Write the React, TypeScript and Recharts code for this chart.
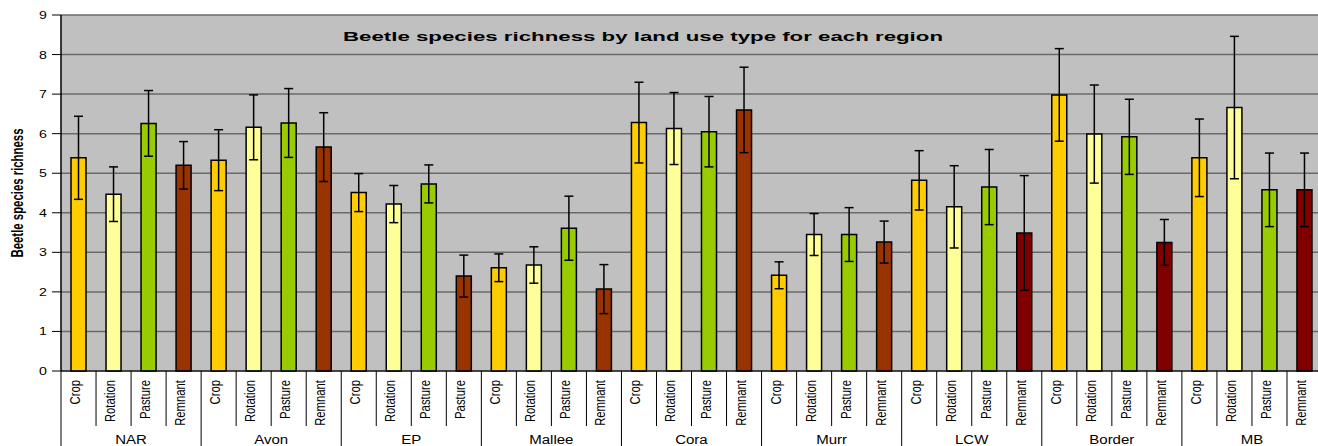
import { BarChart, Bar, Cell, ErrorBar, XAxis, YAxis, CartesianGrid } from "recharts";

const regions = ["NAR", "Avon", "EP", "Mallee", "Cora", "Murr", "LCW", "Border", "MB"];

const useLabels = [
  "Crop", "Rotation", "Pasture", "Remnant",
  "Crop", "Rotation", "Pasture", "Remnant",
  "Crop", "Rotation", "Pasture", "Pasture",
  "Crop", "Rotation", "Pasture", "Remnant",
  "Crop", "Rotation", "Pasture", "Remnant",
  "Crop", "Rotation", "Pasture", "Remnant",
  "Crop", "Rotation", "Pasture", "Remnant",
  "Crop", "Rotation", "Pasture", "Remnant",
  "Crop", "Rotation", "Pasture", "Remnant",
];

const means = [
  5.39, 4.47, 6.26, 5.2,
  5.33, 6.16, 6.27, 5.66,
  4.51, 4.22, 4.73, 2.4,
  2.61, 2.68, 3.61, 2.07,
  6.28, 6.13, 6.05, 6.6,
  2.42, 3.45, 3.45, 3.26,
  4.82, 4.15, 4.65, 3.49,
  6.98, 5.99, 5.92, 3.25,
  5.39, 6.66, 4.58, 4.58,
];

const errors = [
  1.05, 0.69, 0.83, 0.6,
  0.77, 0.82, 0.87, 0.87,
  0.48, 0.47, 0.48, 0.53,
  0.35, 0.46, 0.81, 0.62,
  1.02, 0.91, 0.89, 1.08,
  0.34, 0.53, 0.68, 0.53,
  0.75, 1.04, 0.95, 1.45,
  1.17, 1.24, 0.95, 0.58,
  0.98, 1.8, 0.93, 0.93,
];

// fill type per bar (EP's last bar is labelled Pasture but drawn as remnant)
const fillTypes = [
  "crop", "rotation", "pasture", "remnant",
  "crop", "rotation", "pasture", "remnant",
  "crop", "rotation", "pasture", "remnant",
  "crop", "rotation", "pasture", "remnant",
  "crop", "rotation", "pasture", "remnant",
  "crop", "rotation", "pasture", "remnant",
  "crop", "rotation", "pasture", "remnantDark",
  "crop", "rotation", "pasture", "remnantDark",
  "crop", "rotation", "pasture", "remnantDark",
];

const yTicks = [0, 1, 2, 3, 4, 5, 6, 7, 8, 9];

const COLORS: Record<string, string> = {
  crop: "#ffcc00",
  rotation: "#ffff99",
  pasture: "#99cc00",
  remnant: "#993300",
  remnantDark: "#800000",
};

const data = means.map((v, i) => ({
  key: String(i),
  label: useLabels[i],
  region: regions[Math.floor(i / 4)],
  value: v,
  err: errors[i],
  type: fillTypes[i],
}));

const FONT = "'Liberation Sans', Arial, sans-serif";
const BAND = 35;
// the original picture is stretched sideways, so text is widened to match
const STRETCH = 1.3;

interface TickProps {
  x?: number;
  y?: number;
  index?: number;
  payload?: { value: number | string };
}

function CategoryTick({ x = 0, y = 0, index = 0 }: TickProps) {
  const d = data[index];
  const left = x - BAND / 2;
  const regionStart = index % 4 === 0;
  const bx = x + 1.5;
  const by = y + 9;
  const rx = x + BAND * 1.5;
  const ry = y + 73;
  return (
    <g>
      <line
        x1={left}
        y1={y}
        x2={left}
        y2={regionStart ? y + 80 : y + 55}
        stroke="#000"
        strokeWidth={1}
      />
      <text
        transform={`translate(${bx} ${by}) scale(${STRETCH} 1) rotate(-90)`}
        textAnchor="end"
        fontFamily={FONT}
        fontSize={11.3}
        fill="#000"
      >
        {d.label}
      </text>
      {regionStart && (
        <text
          transform={`translate(${rx} ${ry}) scale(1.25 1)`}
          textAnchor="middle"
          fontFamily={FONT}
          fontSize={12}
          fill="#000"
        >
          {d.region}
        </text>
      )}
    </g>
  );
}

function YTick({ x = 0, y = 0, payload }: TickProps) {
  return (
    <text
      transform={`translate(${x} ${y + 4}) scale(1.35 1)`}
      textAnchor="end"
      fontFamily={FONT}
      fontSize={10.5}
      fill="#000"
    >
      {payload?.value}
    </text>
  );
}

function YLabel({ viewBox }: { viewBox?: { x: number; y: number; width: number; height: number } }) {
  if (!viewBox) return null;
  const cx = viewBox.x + 23;
  const cy = viewBox.y + viewBox.height / 2;
  return (
    <text
      transform={`translate(${cx} ${cy}) scale(${STRETCH} 1) rotate(-90)`}
      textAnchor="middle"
      fontFamily={FONT}
      fontSize={12}
      fontWeight="bold"
      textLength={129}
      lengthAdjust="spacingAndGlyphs"
      fill="#000"
    >
      Beetle species richness
    </text>
  );
}

export default function App() {
  return (
    <div
      style={{
        position: "absolute",
        left: 0,
        top: 0,
        width: 1318,
        height: 446,
        overflow: "hidden",
        background: "#fff",
      }}
    >
      <BarChart
        width={1322}
        height={446}
        data={data}
        margin={{ top: 15, right: 0, bottom: 0, left: 0 }}
        barCategoryGap={0}
      >
        <CartesianGrid vertical={false} stroke="#6a6a6a" strokeWidth={1.5} fill="#c0c0c0" />
        <XAxis
          dataKey="key"
          interval={0}
          height={75}
          tickLine={false}
          tickSize={0}
          tickMargin={0}
          axisLine={{ stroke: "#000", strokeWidth: 1 }}
          tick={<CategoryTick />}
        />
        <YAxis
          domain={[0, 9]}
          ticks={yTicks}
          interval={0}
          width={61}
          tickSize={9}
          tickMargin={5}
          axisLine={{ stroke: "#000", strokeWidth: 1.5 }}
          tickLine={{ stroke: "#000" }}
          tick={<YTick />}
          label={<YLabel />}
        />
        <Bar dataKey="value" barSize={15} stroke="#000" strokeWidth={1.5} isAnimationActive={false}>
          {data.map((d) => (
            <Cell key={d.key} fill={COLORS[d.type]} />
          ))}
          <ErrorBar dataKey="err" width={4.5} stroke="#000" strokeWidth={1.5} />
        </Bar>
      </BarChart>
      <svg
        width={1318}
        height={60}
        style={{ position: "absolute", left: 0, top: 0, pointerEvents: "none" }}
      >
        <text
          x={643}
          y={41}
          textAnchor="middle"
          fontFamily={FONT}
          fontSize={12.5}
          fontWeight="bold"
          textLength={600}
          lengthAdjust="spacingAndGlyphs"
          fill="#000"
        >
          Beetle species richness by land use type for each region
        </text>
      </svg>
    </div>
  );
}
